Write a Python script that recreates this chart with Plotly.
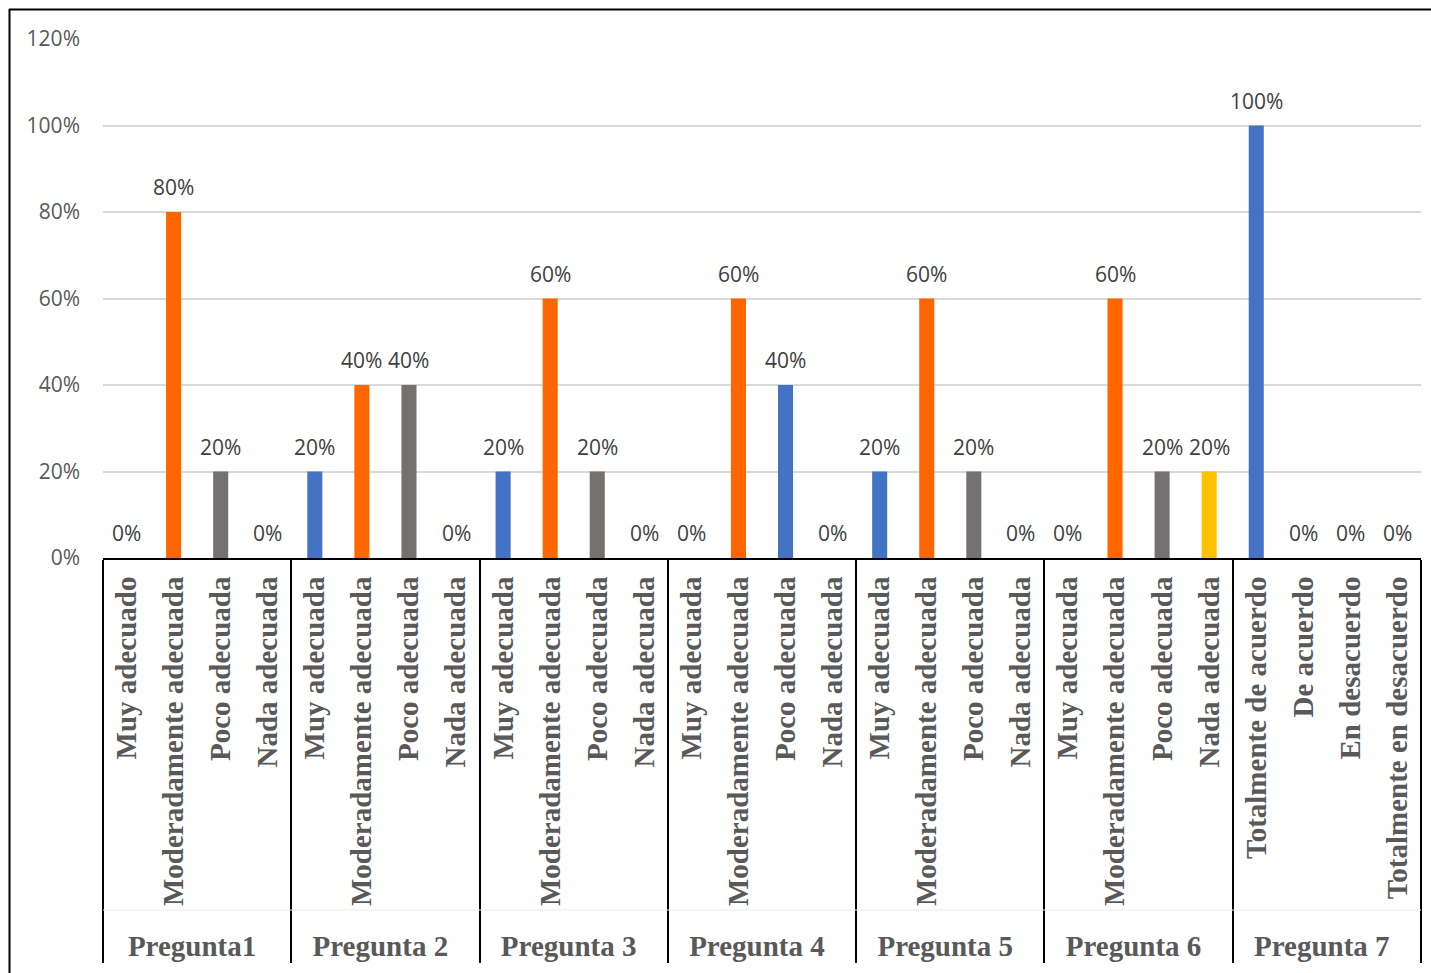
import plotly.graph_objects as go

groups = ["Pregunta1", "Pregunta 2", "Pregunta 3", "Pregunta 4", "Pregunta 5", "Pregunta 6", "Pregunta 7"]
scale_a = ["Muy adecuado", "Moderadamente adecuada", "Poco adecuada", "Nada adecuada"]
scale_b = ["Muy adecuada", "Moderadamente adecuada", "Poco adecuada", "Nada adecuada"]
scale_c = ["Totalmente de acuerdo", "De acuerdo", "En desacuerdo", "Totalmente en desacuerdo"]
group_categories = [scale_a, scale_b, scale_b, scale_b, scale_b, scale_b, scale_c]

values = [
    [0.0, 0.8, 0.2, 0.0],
    [0.2, 0.4, 0.4, 0.0],
    [0.2, 0.6, 0.2, 0.0],
    [0.0, 0.6, 0.4, 0.0],
    [0.2, 0.6, 0.2, 0.0],
    [0.0, 0.6, 0.2, 0.2],
    [1.0, 0.0, 0.0, 0.0],
]

BLUE, ORANGE, GRAY, YELLOW = "#4472C4", "#FF6600", "#767171", "#FFC000"
bar_colors = [
    [BLUE, ORANGE, GRAY, YELLOW],
    [BLUE, ORANGE, GRAY, YELLOW],
    [BLUE, ORANGE, GRAY, YELLOW],
    [BLUE, ORANGE, BLUE, YELLOW],
    [BLUE, ORANGE, GRAY, YELLOW],
    [BLUE, ORANGE, GRAY, YELLOW],
    [BLUE, ORANGE, GRAY, YELLOW],
]

# Points are listed position-by-position so that the multicategory axis keeps
# each group's own answer order (first appearance defines the order).
lvl0, lvl1, ys, cols = [], [], [], []
for j in range(4):
    for g, cats, vals, cs in zip(groups, group_categories, values, bar_colors):
        lvl0.append(g)
        lvl1.append(cats[j])
        ys.append(vals[j])
        cols.append(cs[j])

W, H = 1431, 973
ML, MR, MT, MB = 103, 10, 39, 415

fig = go.Figure()
fig.add_trace(go.Bar(
    x=[lvl0, lvl1], y=ys, marker=dict(color=cols, line=dict(width=0)),
    hoverinfo="skip",
))

# data labels, placed on the category axis (serial index) at each bar's value
annotations = []
for gi, vals in enumerate(values):
    for j, v in enumerate(vals):
        annotations.append(dict(
            x=gi * 4 + j, y=v, xref="x", yref="y", text=f"{round(v * 100)}%",
            showarrow=False, yanchor="middle", yshift=25,
            font=dict(family="Open Sans", size=21, color="#404040"),
        ))

pw, ph = W - ML - MR, H - MT - MB
def px_x(p):
    return (p - ML) / pw
def px_y(p):
    return (H - MB - p) / ph

shapes = [
    dict(type="line", xref="paper", yref="paper", x0=px_x(9), x1=px_x(1431), y0=px_y(9.5), y1=px_y(9.5),
         line=dict(color="black", width=2)),
    dict(type="line", xref="paper", yref="paper", x0=px_x(9.5), x1=px_x(9.5), y0=px_y(9), y1=px_y(973),
         line=dict(color="black", width=2)),
    dict(type="line", xref="paper", yref="paper", x0=0, x1=1, y0=px_y(910), y1=px_y(910),
         line=dict(color="#EDEDED", width=1)),
]

fig.update_layout(
    width=W, height=H,
    margin=dict(l=ML, r=MR, t=MT, b=MB, autoexpand=False),
    paper_bgcolor="white", plot_bgcolor="white",
    showlegend=False, bargap=0.68,
    shapes=shapes, annotations=annotations,
    xaxis=dict(
        type="multicategory", tickangle=-90,
        tickfont=dict(family="Liberation Serif", size=29, color="#595959", weight="bold"),
        showline=True, linecolor="black", linewidth=2,
        showdividers=True, dividercolor="black", dividerwidth=2,
        ticks="", showgrid=False, automargin=False, ticklabelstandoff=5,
    ),
    yaxis=dict(
        range=[0, 1.2], dtick=0.2, tickformat=".0%",
        tickfont=dict(family="Open Sans", size=21, color="#595959"),
        gridcolor="#D9D9D9", gridwidth=1.5, zeroline=False,
        showline=False, ticks="", ticklabelstandoff=22, automargin=False,
    ),
)

fig.write_html("out.html")
